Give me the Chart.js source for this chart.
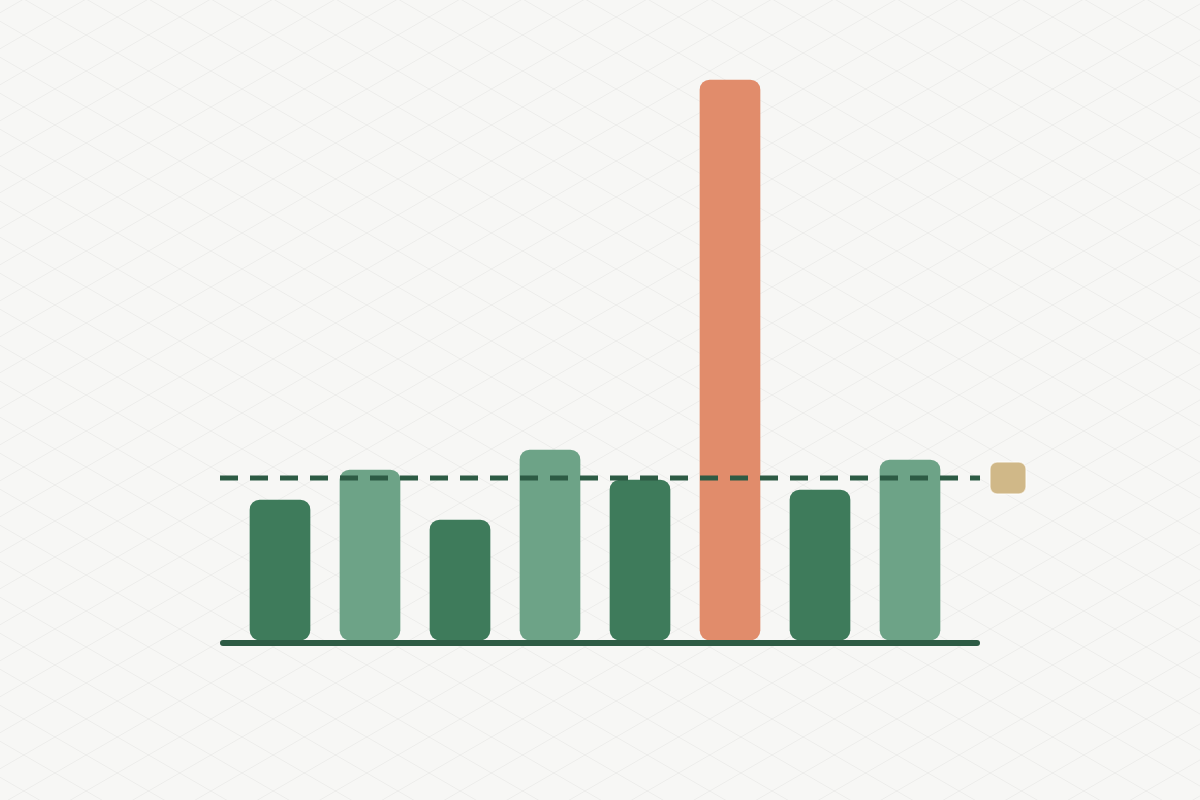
<!DOCTYPE html>
<html>
<head>
<meta charset="utf-8">
<script src="https://cdn.jsdelivr.net/npm/chart.js@4"></script>
<style>
    html, body { margin: 0; padding: 0; background: #f7f7f5; }
    #wrap { width: 1200px; height: 800px; }
</style>
</head>
<body>
<div id="wrap"><canvas id="barChart" width="1200" height="800"></canvas></div>
<script>
// ---------------- Data ----------------
const categories = ['1', '2', '3', '4', '5', '6', '7', '8'];
const values = [7, 8.5, 6, 9.5, 8, 28, 7.5, 9];
const threshold = 8.1;
const yMax = 30;

// colours
const DARK = '#3e7b5b';
const LIGHT = '#6da387';
const ALERT = '#e18c6b';
const LINE = '#2d5b44';
const TAG = '#d0b888';

// ---------------- Background isometric grid ----------------
const bgGrid = {
    id: 'bgGrid',
    beforeDraw(chart) {
        const { ctx, width, height } = chart;
        const t = Math.tan(Math.PI / 6);
        ctx.save();
        ctx.fillStyle = '#f7f7f5';
        ctx.fillRect(0, 0, width, height);
        ctx.strokeStyle = 'rgba(0, 0, 0, 0.045)';
        ctx.lineWidth = 1;
        ctx.beginPath();
        for (let c = 21.25 - 36 * 30; c < height + 36; c += 36) {
            ctx.moveTo(0, c);
            ctx.lineTo(width, c + width * t);
        }
        for (let c = 12.75 - 36; c < height + width * t + 36; c += 36) {
            ctx.moveTo(0, c);
            ctx.lineTo(width, c - width * t);
        }
        ctx.stroke();
        ctx.restore();
    }
};

// ---------------- Baseline, threshold line, end tag ----------------
const guides = {
    id: 'guides',
    afterDatasetsDraw(chart) {
        const { ctx, chartArea } = chart;
        const y = chart.scales.y;
        const ty = y.getPixelForValue(threshold);
        const by = y.getPixelForValue(0) + 3;
        ctx.save();

        // threshold (dashed)
        ctx.strokeStyle = LINE;
        ctx.lineWidth = 5;
        ctx.setLineDash([18, 12]);
        ctx.beginPath();
        ctx.moveTo(chartArea.left, ty);
        ctx.lineTo(chartArea.right, ty);
        ctx.stroke();

        // baseline
        ctx.setLineDash([]);
        ctx.lineWidth = 6;
        ctx.lineCap = 'round';
        ctx.beginPath();
        ctx.moveTo(chartArea.left + 3, by);
        ctx.lineTo(chartArea.right - 3, by);
        ctx.stroke();

        // tag at the end of the threshold line
        ctx.fillStyle = TAG;
        ctx.strokeStyle = 'rgba(255, 255, 255, 0.6)';
        ctx.lineWidth = 1.5;
        ctx.beginPath();
        ctx.roundRect(chartArea.right + 10, ty - 16, 36, 32, 7);
        ctx.fill();
        ctx.stroke();
        ctx.restore();
    }
};

const ctx = document.getElementById('barChart').getContext('2d');
new Chart(ctx, {
    type: 'bar',
    data: {
        datasets: [{
            label: 'Value',
            data: values.map((v, i) => ({ x: i, y: v })),
            backgroundColor: c => c.raw && c.raw.y > threshold * 2 ? ALERT : (c.dataIndex % 2 ? LIGHT : DARK),
            borderRadius: 10,
            borderSkipped: false,
            barThickness: 60
        }]
    },
    options: {
        responsive: false,
        animation: false,
        layout: { padding: { left: 220, right: 220, top: 40, bottom: 160 } },
        plugins: {
            legend: { display: false },
            tooltip: { enabled: false }
        },
        scales: {
            x: { type: 'linear', offset: false, min: -2 / 3, max: categories.length - 1 + 7 / 9, display: false },
            y: { min: 0, max: yMax, display: false }
        }
    },
    plugins: [bgGrid, guides]
});
</script>
</body>
</html>
